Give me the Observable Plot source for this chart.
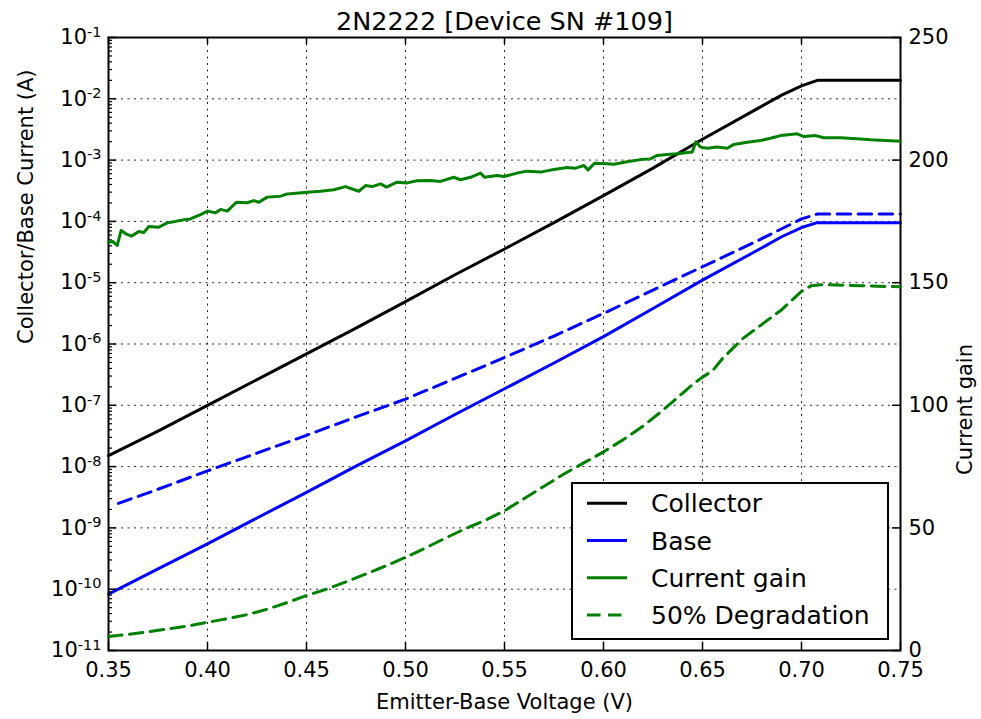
<!DOCTYPE html>
<html><head><meta charset="utf-8">
<script src="https://cdn.jsdelivr.net/npm/d3@7"></script>
<script src="https://cdn.jsdelivr.net/npm/@observablehq/plot@0.6"></script>
<style>
html,body{margin:0;padding:0;background:#fff;overflow:hidden;}
#chart{position:relative;width:981px;height:719px;font-family:"DejaVu Sans",sans-serif;}
#chart > svg{position:absolute;left:0;top:0;}
</style></head><body><div id="chart"></div>
<script>
// ---------- data ----------
const titleText = "2N2222 [Device SN #109]";
const xLabel = "Emitter-Base Voltage (V)";
const yLabelLeft = "Collector/Base Current (A)";
const yLabelRight = "Current gain";

const voltageTicks = [0.35, 0.40, 0.45, 0.50, 0.55, 0.60, 0.65, 0.70, 0.75];
const currentTicks = [1e-11, 1e-10, 1e-9, 1e-8, 1e-7, 1e-6, 1e-5, 1e-4, 1e-3, 1e-2, 1e-1];
const minorMultipliers = [2, 3, 4, 5, 6, 7, 8, 9];
const gainTicks = [0, 50, 100, 150, 200, 250];

const sweepVoltage = [0.35, 0.375, 0.40, 0.425, 0.45, 0.475, 0.50, 0.525, 0.55, 0.575, 0.60, 0.625, 0.65, 0.675, 0.69, 0.70, 0.708, 0.75];
const collectorCurrent = [1.51e-8, 3.80e-8, 1.00e-7, 2.63e-7, 6.92e-7, 1.82e-6, 4.90e-6, 1.35e-5, 3.55e-5, 9.55e-5, 2.63e-4, 7.41e-4, 2.19e-3, 6.17e-3, 1.15e-2, 1.62e-2, 2.0e-2, 2.0e-2];
const baseCurrent = [8.32e-11, 2.14e-10, 5.50e-10, 1.45e-9, 3.80e-9, 1.02e-8, 2.63e-8, 7.08e-8, 1.86e-7, 4.90e-7, 1.32e-6, 3.80e-6, 1.10e-5, 3.02e-5, 5.62e-5, 7.94e-5, 9.55e-5, 9.55e-5];

const degradedVoltage = [0.355, 0.375, 0.40, 0.425, 0.45, 0.475, 0.50, 0.525, 0.55, 0.575, 0.60, 0.625, 0.65, 0.675, 0.69, 0.70, 0.708, 0.75];
const degradedBaseCurrent = [2.51e-9, 4.27e-9, 8.51e-9, 1.66e-8, 3.24e-8, 6.46e-8, 1.26e-7, 2.75e-7, 6.03e-7, 1.35e-6, 3.16e-6, 7.59e-6, 1.82e-5, 4.37e-5, 7.59e-5, 1.10e-4, 1.32e-4, 1.32e-4];

const gainVoltage = [0.3500,0.3520,0.3544,0.3564,0.3591,0.3616,0.3653,0.3678,0.3704,0.3754,0.3796,0.3838,0.3880,0.3914,0.3965,0.4000,0.4040,0.4066,0.4100,0.4146,0.4200,0.4234,0.4259,0.4302,0.4369,0.4403,0.4504,0.4571,0.4638,0.4697,0.4764,0.4798,0.4832,0.4874,0.4904,0.4958,0.5009,0.5059,0.5126,0.5177,0.5244,0.5278,0.5328,0.5379,0.5399,0.5463,0.5496,0.5564,0.5614,0.5682,0.5749,0.5817,0.5859,0.5901,0.5922,0.5955,0.6019,0.6052,0.6119,0.6187,0.6237,0.6271,0.6321,0.6372,0.6448,0.6467,0.6490,0.6524,0.6574,0.6625,0.6658,0.6726,0.6793,0.6843,0.6894,0.6944,0.6978,0.7012,0.7071,0.7113,0.7197,0.7281,0.7348,0.7424,0.7500];
const currentGain = [166.5,166.8,165.2,171.3,169.8,169.0,170.9,170.5,172.9,172.6,174.4,175.0,175.7,176.0,177.8,179.2,178.5,179.9,179.2,182.8,182.6,183.5,182.8,184.9,185.3,186.2,186.9,187.3,187.9,189.2,187.3,189.6,189.2,190.3,189.0,191.0,190.7,191.6,191.7,191.3,193.0,192.0,193.0,194.7,193.0,193.7,193.3,194.7,195.5,195.1,196.2,197.0,196.7,197.8,196.0,198.7,198.5,198.3,199.3,200.2,200.5,201.9,202.3,202.6,203.3,207.5,205.3,204.8,205.3,204.8,206.4,207.3,208.0,208.9,210.0,210.4,210.7,209.6,210.0,209.1,209.1,208.7,208.3,208.0,207.7];

const degradationVoltage = [0.35,0.36,0.37,0.38,0.39,0.40,0.41,0.42,0.43,0.44,0.45,0.46,0.47,0.48,0.49,0.50,0.51,0.52,0.53,0.54,0.55,0.56,0.57,0.58,0.59,0.60,0.61,0.62,0.63,0.64,0.645,0.65,0.655,0.66,0.67,0.68,0.69,0.70,0.705,0.71,0.73,0.75];
const degradedGain = [5.7,6.6,7.6,8.8,10.0,11.5,13.0,14.6,16.8,19.5,22.4,25.0,28.0,31.2,34.5,38.0,41.8,45.8,49.6,53.0,57.0,62.0,67.0,72.0,76.5,81.0,86.0,91.5,98.0,105.0,108.5,111.5,114.0,119.0,127.0,133.0,139.0,146.5,148.8,149.2,148.8,148.3];

const legendLabels = ["Collector", "Base", "Current gain", "50% Degradation"];
const legendColors = ["#000000", "#0000ff", "#008000", "#008000"];
const legendDashed = [false, false, false, true];

// ---------- layout ----------
const W = 981, H = 719;
const mL = 108, mR = 81, mT = 37, mB = 69;
const frameW = W - mL - mR, frameH = H - mT - mB;
const DASH = "13.5,7.5";
const GRID = {stroke: "#000", strokeOpacity: 0.85, strokeWidth: 1, strokeDasharray: "2,4.5"};
const FONT = "DejaVu Sans";

const rows = (xs, ys) => xs.map((v, i) => ({v, y: ys[i]}));
const fmtPow = d => "10^" + Math.round(Math.log10(d));
const minorTicks = currentTicks.slice(0, -1).flatMap(d => minorMultipliers.map(m => d * m));

const common = {
  width: W, height: H, marginLeft: mL, marginRight: mR, marginTop: mT, marginBottom: mB,
  style: {fontFamily: FONT, fontSize: "21px", background: "transparent", overflow: "visible", color: "#000"}
};

const left = Plot.plot({
  ...common,
  x: {domain: [0.35, 0.75]},
  y: {type: "log", domain: [1e-11, 1e-1]},
  marks: [
    Plot.ruleX(voltageTicks, {x: d => d, ...GRID}),
    Plot.ruleY(currentTicks, {y: d => d, ...GRID}),
    Plot.line(rows(sweepVoltage, collectorCurrent), {x: "v", y: "y", stroke: "#000", strokeWidth: 3}),
    Plot.line(rows(sweepVoltage, baseCurrent), {x: "v", y: "y", stroke: "#0000ff", strokeWidth: 3}),
    Plot.line(rows(degradedVoltage, degradedBaseCurrent), {x: "v", y: "y", stroke: "#0000ff", strokeWidth: 3, strokeDasharray: DASH}),
    Plot.frame({stroke: "#000", strokeWidth: 2}),
    Plot.tickX(voltageTicks, {x: d => d, insetTop: frameH - 8, stroke: "#000", strokeWidth: 1.5}),
    Plot.tickX(voltageTicks, {x: d => d, insetBottom: frameH - 7, stroke: "#000", strokeWidth: 1.5}),
    Plot.tickY(currentTicks, {y: d => d, insetRight: frameW - 8, stroke: "#000", strokeWidth: 1.5}),
    Plot.tickY(minorTicks, {y: d => d, insetRight: frameW - 4, stroke: "#000", strokeWidth: 1.2}),
    Plot.axisX(voltageTicks, {tickSize: 0, tickPadding: 12, tickFormat: d3.format(".2f"), fontSize: 21, label: null}),
    Plot.axisY(currentTicks, {anchor: "left", tickSize: 0, tickPadding: 7, tickFormat: fmtPow, fontSize: 21, label: null}),
    Plot.text([xLabel], {text: d => d, frameAnchor: "bottom", lineAnchor: "bottom", dy: 58, fontSize: 21}),
    Plot.text([yLabelLeft], {text: d => d, frameAnchor: "left", lineAnchor: "bottom", rotate: -90, dx: -76, fontSize: 21}),
    Plot.text([titleText], {text: d => d, frameAnchor: "top", lineAnchor: "bottom", dy: -8, fontSize: 25.5})
  ]
});

// render "10^-n" tick labels with a real superscript exponent
left.querySelectorAll("text").forEach(t => {
  const m = /^10\^(-?\d+)$/.exec(t.textContent);
  if (!m) return;
  t.textContent = "10";
  const s = document.createElementNS("http://www.w3.org/2000/svg", "tspan");
  s.setAttribute("dy", "-7.5");
  s.setAttribute("font-size", "14.5");
  s.textContent = m[1];
  t.appendChild(s);
});

const right = Plot.plot({
  ...common,
  x: {domain: [0.35, 0.75], axis: null},
  y: {domain: [0, 250]},
  marks: [
    Plot.line(rows(gainVoltage, currentGain), {x: "v", y: "y", stroke: "#008000", strokeWidth: 3}),
    Plot.line(rows(degradationVoltage, degradedGain), {x: "v", y: "y", stroke: "#008000", strokeWidth: 3, strokeDasharray: DASH}),
    Plot.tickY(gainTicks, {y: d => d, insetLeft: frameW - 8, stroke: "#000", strokeWidth: 1.5}),
    Plot.axisY(gainTicks, {anchor: "right", tickSize: 0, tickPadding: 8, fontSize: 21, label: null}),
    Plot.text([yLabelRight], {text: d => d, frameAnchor: "right", lineAnchor: "bottom", rotate: -90, dx: 71, fontSize: 21})
  ]
});

const chart = document.getElementById("chart");
chart.appendChild(left);
chart.appendChild(right);

// ---------- legend ----------
const lgX = 571, lgY = 482, lgW = 318, lgH = 158, rowH = 37.2, row0 = 21.3;
const lg = d3.create("svg").attr("width", lgW).attr("height", lgH)
  .style("position", "absolute").style("left", lgX + "px").style("top", lgY + "px")
  .style("font-family", FONT);
lg.append("rect").attr("x", 1).attr("y", 1).attr("width", lgW - 2).attr("height", lgH - 2)
  .attr("fill", "#fff").attr("stroke", "#000").attr("stroke-width", 2);
legendLabels.forEach((label, i) => {
  const cy = row0 + i * rowH;
  lg.append("line").attr("x1", 16).attr("x2", 56).attr("y1", cy).attr("y2", cy)
    .attr("stroke", legendColors[i]).attr("stroke-width", 3)
    .attr("stroke-dasharray", legendDashed[i] ? DASH : null);
  lg.append("text").attr("x", 80).attr("y", cy + 9).attr("font-size", 25).attr("fill", "#000").text(label);
});
chart.appendChild(lg.node());
</script></body></html>
